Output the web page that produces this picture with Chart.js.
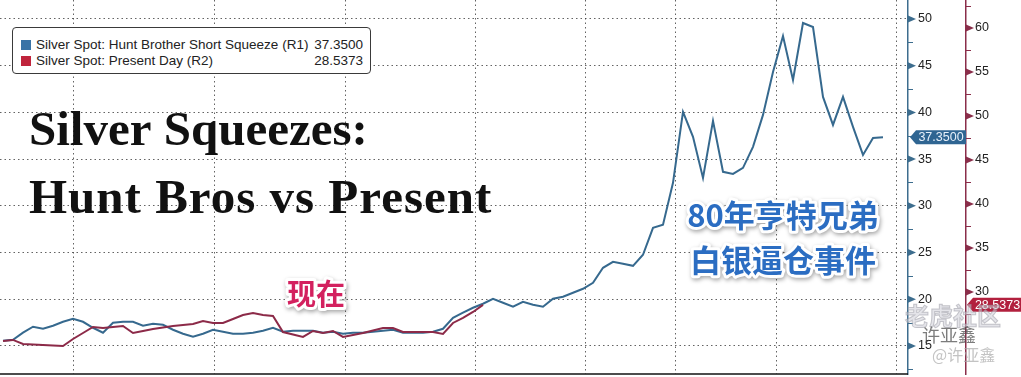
<!DOCTYPE html>
<html><head><meta charset="utf-8">
<script src="https://cdn.jsdelivr.net/npm/chart.js@4.4.1/dist/chart.umd.min.js"></script>
<style>
html,body{margin:0;padding:0;background:#fff;}
#wrap{position:relative;width:1021px;height:377px;overflow:hidden;background:#fff;}
canvas{display:block;}
#legend{position:absolute;left:12px;top:27px;width:357px;height:45px;border:1px solid #3a3a3a;border-radius:4px;background:#fff;font:13.5px "Liberation Sans",Arial,sans-serif;color:#222;}
.row{position:absolute;left:8px;right:7px;height:16px;line-height:16px;white-space:nowrap;}
.sw{position:absolute;left:0;top:3px;width:10px;height:10px;}
.lbl{position:absolute;left:15px;top:0;}
.val{position:absolute;right:0;top:0;}
</style></head>
<body>
<div id="wrap">
<canvas id="c" width="1021" height="377"></canvas>
<div id="legend">
  <div class="row" style="top:9px"><span class="sw" style="background:#3a73a6"></span><span class="lbl" id="l1"></span><span class="val" id="v1"></span></div>
  <div class="row" style="top:25px"><span class="sw" style="background:#c0243c"></span><span class="lbl" id="l2"></span><span class="val" id="v2"></span></div>
</div>
</div>
<script>
// ---- data ----
const blueSeriesName = 'Silver Spot: Hunt Brother Short Squeeze (R1)';
const redSeriesName = 'Silver Spot: Present Day (R2)';
const huntBros = [
  15.56,15.67,16.42,17.06,16.84,17.17,17.59,17.91,17.59,16.95,
  16.42,17.49,17.59,17.59,17.17,17.38,17.27,16.74,16.31,15.99,
  16.31,16.74,16.52,16.31,16.31,16.42,16.63,16.95,16.52,16.63,
  16.63,16.63,16.42,16.52,16.31,16.42,16.42,16.52,16.63,16.74,
  16.42,16.42,16.42,16.52,16.84,18.02,18.56,19.09,19.52,20.05,
  19.63,19.20,19.73,19.41,19.20,20.05,20.27,20.70,21.12,21.76,
  23.37,24.01,23.80,23.58,24.76,27.65,27.97,32.46,40.05,37.38,
  32.99,39.09,33.64,33.42,34.06,36.31,39.73,44.33,48.18,43.48,
  49.57,49.14,41.66,38.66,41.66,38.45,35.45,37.27,37.35
];
const presentDay = [
  24.43,24.55,24.09,24.03,23.98,23.92,23.86,24.66,25.34,26.02,
  25.91,26.02,26.14,25.34,25.57,25.80,25.97,26.14,26.25,26.36,
  26.70,26.48,26.48,26.93,27.39,27.61,27.39,27.27,25.45,25.17,
  24.89,25.57,25.34,25.57,24.89,25.11,25.34,25.63,25.91,25.91,
  25.45,25.45,25.45,25.45,25.23,26.48,27.05,27.73,28.5373
];
const blueTicks = [15,20,25,30,35,40,45,50];
const redTicks = [30,35,40,45,50,55,60];
const vGridDays = [7, 21.1, 34.2, 47.3, 58.3, 67.2, 77.3, 89.3];
const titleLines = ['Silver Squeezes:', 'Hunt Bros vs Present'];
const noteHunt = ['80年亨特兄弟', '白银逼仓事件'];
const noteNow = '现在';

const BLUE = '#36698e', RED = '#8c2a48';
const BLUE_AX = '#3d6d8e', RED_AX = '#8a2e4a';

document.getElementById('l1').textContent = blueSeriesName;
document.getElementById('l2').textContent = redSeriesName;
document.getElementById('v1').textContent = huntBros[huntBros.length-1].toFixed(4);
document.getElementById('v2').textContent = presentDay[presentDay.length-1].toFixed(4);

const toXY = arr => arr.map((v,i) => ({x:i, y:v}));

const gridColor = 'rgba(60,60,60,0.8)';
const gridDash = [1.5, 3];

function drawTag(ctx, x, y, w, h, bg, txt, fg){
  ctx.save();
  ctx.beginPath();
  ctx.moveTo(x, y);
  ctx.lineTo(x+6, y-h/2);
  ctx.lineTo(x+w, y-h/2);
  ctx.lineTo(x+w, y+h/2);
  ctx.lineTo(x+6, y+h/2);
  ctx.closePath();
  ctx.fillStyle = bg; ctx.fill();
  ctx.fillStyle = fg;
  ctx.font = '12.5px "Liberation Sans", Arial, sans-serif';
  ctx.textAlign = 'center'; ctx.textBaseline = 'middle';
  ctx.fillText(txt, x + 3 + w/2, y + 0.5);
  ctx.restore();
}

function outlinedText(ctx, txt, x, y, font, fill, strokeW){
  ctx.save();
  ctx.font = font;
  ctx.textAlign = 'center'; ctx.textBaseline = 'middle';
  ctx.lineJoin = 'round';
  ctx.shadowColor = 'rgba(0,0,0,0.35)';
  ctx.shadowBlur = 4; ctx.shadowOffsetX = 1; ctx.shadowOffsetY = 2;
  ctx.strokeStyle = '#ffffff'; ctx.lineWidth = strokeW;
  ctx.strokeText(txt, x, y);
  ctx.shadowColor = 'transparent';
  ctx.fillStyle = fill;
  ctx.fillText(txt, x, y);
  ctx.restore();
}

const deco = {
  id: 'deco',
  beforeDatasetsDraw(chart){
    const ctx = chart.ctx;
    ctx.save();
    ctx.fillStyle = '#111';
    ctx.font = 'bold 49px "Liberation Serif", "Times New Roman", serif';
    ctx.textBaseline = 'alphabetic'; ctx.textAlign = 'left';
    ctx.fillText(titleLines[0], 29, 145);
    ctx.letterSpacing = '1px';
    ctx.fillText(titleLines[1], 29, 213);
    ctx.restore();
  },
  afterDatasetsDraw(chart){
    const ctx = chart.ctx;
    outlinedText(ctx, noteHunt[0], 783, 215, 'bold 31px "Noto Sans CJK SC", sans-serif', '#2b6dc2', 6);
    outlinedText(ctx, noteHunt[1], 783, 260, 'bold 31px "Noto Sans CJK SC", sans-serif', '#2b6dc2', 6);
    outlinedText(ctx, noteNow, 316, 294, 'bold 29px "Noto Sans CJK SC", sans-serif', '#d3215f', 6);
  },
  afterDraw(chart){
    const ctx = chart.ctx;
    const ca = chart.chartArea;
    // bottom frame line
    ctx.save();
    ctx.strokeStyle = '#111'; ctx.lineWidth = 1.5;
    ctx.beginPath(); ctx.moveTo(ca.left, ca.bottom); ctx.lineTo(ca.right, ca.bottom); ctx.stroke();
    ctx.restore();
    const sets = [
      [chart.scales.y, blueTicks, BLUE_AX],
      [chart.scales.y2, redTicks, RED_AX]
    ];
    for (const [sc, ticks, col] of sets){
      const ax = sc.left;
      ctx.save();
      ctx.fillStyle = col; ctx.strokeStyle = col; ctx.lineWidth = 1;
      for (const t of ticks){
        const py = sc.getPixelForValue(t);
        ctx.beginPath();
        ctx.moveTo(ax, py-3.5); ctx.lineTo(ax+8, py); ctx.lineTo(ax, py+3.5);
        ctx.closePath(); ctx.fill();
      }
      const minors = ticks.map(t => t-2.5).concat([ticks[ticks.length-1]+2.5]);
      for (const m of minors){
        if (m < sc.min || m > sc.max) continue;
        const py = Math.round(sc.getPixelForValue(m)) + 0.5;
        ctx.beginPath(); ctx.moveTo(ax, py); ctx.lineTo(ax+5, py); ctx.stroke();
      }
      ctx.restore();
    }
    const ys = chart.scales.y, ys2 = chart.scales.y2;
    const lb = huntBros[huntBros.length-1], lr = presentDay[presentDay.length-1];
    drawTag(ctx, ys.left + 2, ys.getPixelForValue(lb), 56, 14, '#2f6592', lb.toFixed(4), '#e6f0fa');
    drawTag(ctx, ys2.left + 1, ys2.getPixelForValue(lr), 55, 14, '#b2203e', lr.toFixed(4), '#ffffff');
    // watermark
    ctx.save();
    ctx.textAlign = 'left'; ctx.textBaseline = 'middle';
    ctx.font = 'bold 24px "Noto Sans CJK SC", sans-serif';
    ctx.fillStyle = 'rgba(205,205,215,0.55)';
    ctx.strokeStyle = 'rgba(150,150,160,0.5)'; ctx.lineWidth = 1;
    ctx.fillText('老虎社区', 905, 316); ctx.strokeText('老虎社区', 905, 316);
    ctx.font = '18px "Noto Sans CJK SC", sans-serif';
    ctx.fillStyle = 'rgba(80,80,80,0.75)';
    ctx.fillText('许亚鑫', 922, 335);
    ctx.font = '16px "Noto Sans CJK SC", sans-serif';
    ctx.fillStyle = 'rgba(170,170,170,0.7)';
    ctx.fillText('@许亚鑫', 932, 355);
    ctx.restore();
  }
};

new Chart(document.getElementById('c'), {
  type: 'line',
  data: {
    datasets: [
      { label: blueSeriesName, data: toXY(huntBros), yAxisID: 'y', borderColor: BLUE, borderWidth: 2, pointRadius: 0, tension: 0, order: 2 },
      { label: redSeriesName, data: toXY(presentDay), yAxisID: 'y2', borderColor: RED, borderWidth: 2, pointRadius: 0, tension: 0, order: 1 }
    ]
  },
  options: {
    responsive: false, animation: false,
    layout: { padding: 0 },
    plugins: { legend: { display: false }, tooltip: { enabled: false } },
    scales: {
      x: {
        type: 'linear', min: -0.3, max: 90.5,
        ticks: { display: false },
        afterBuildTicks: s => { s.ticks = vGridDays.map(v => ({value: v})); },
        afterFit: s => { s.height = 3; s.paddingLeft = 0; s.paddingRight = 0; },
        grid: { color: gridColor, lineWidth: 1, drawTicks: false },
        border: { display: false, dash: gridDash }
      },
      y: {
        position: 'right', min: 12.0, max: 52.03, weight: 0,
        afterBuildTicks: s => { s.ticks = blueTicks.map(v => ({value: v})); },
        afterFit: s => { s.width = 58; s.paddingTop = 0; s.paddingBottom = 0; },
        ticks: { color: '#222', padding: 10, font: { family: '"Liberation Sans", Arial, sans-serif', size: 12.5 } },
        grid: { color: gridColor, lineWidth: 1, drawTicks: false },
        border: { display: true, color: BLUE_AX, width: 1.5, dash: gridDash }
      },
      y2: {
        position: 'right', min: 20.68, max: 63.18, weight: 1,
        afterBuildTicks: s => { s.ticks = redTicks.map(v => ({value: v})); },
        afterFit: s => { s.width = 55; s.paddingTop = 0; s.paddingBottom = 0; },
        ticks: { color: '#222', padding: 9, font: { family: '"Liberation Sans", Arial, sans-serif', size: 12.5 } },
        grid: { display: false, drawTicks: false },
        border: { display: true, color: RED_AX, width: 1.5 }
      }
    }
  },
  plugins: [deco]
});
</script>
</body></html>
